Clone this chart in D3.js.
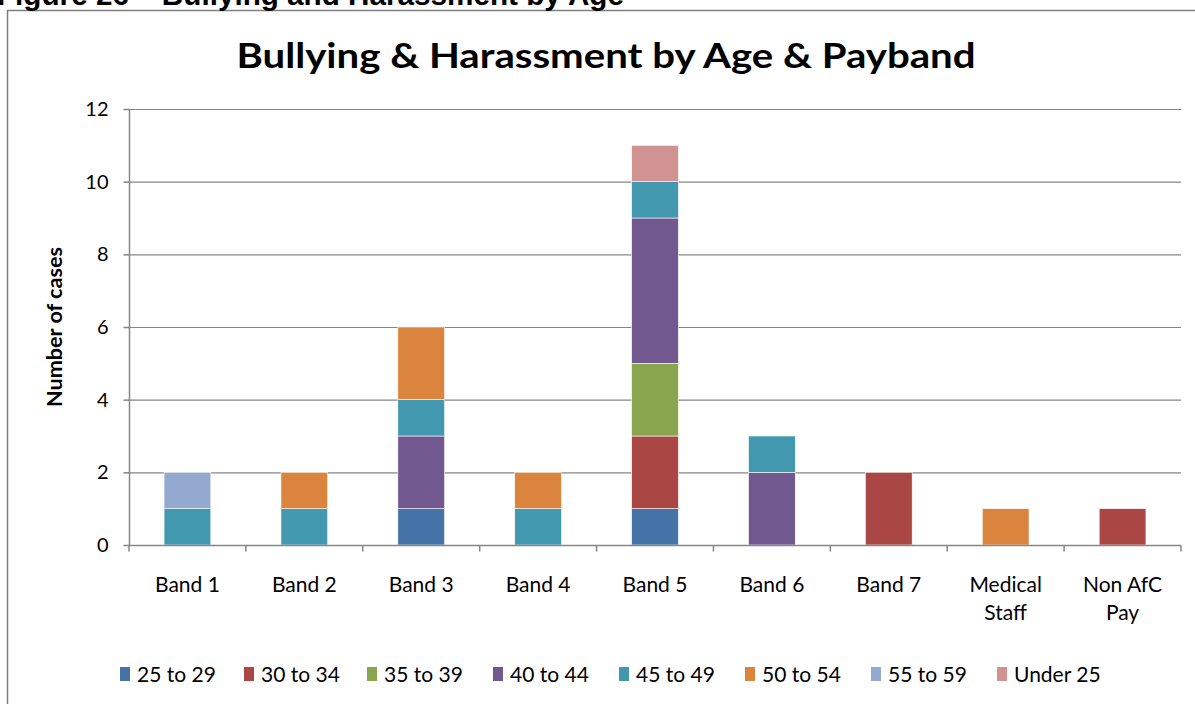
<!DOCTYPE html>
<html>
<head>
<meta charset="utf-8">
<script src="https://cdn.jsdelivr.net/npm/d3@7"></script>
<style>
body{margin:0;background:#fff;}
svg{display:block;}
</style>
</head>
<body>
<svg id="chart" width="1195" height="704"></svg>
<script>
// data
const categories = ["Band 1","Band 2","Band 3","Band 4","Band 5","Band 6","Band 7","Medical Staff","Non AfC Pay"];
const ageGroups = ["25 to 29","30 to 34","35 to 39","40 to 44","45 to 49","50 to 54","55 to 59","Under 25"];
const colours = ["#4572A7","#AA4643","#89A54E","#71588F","#4198AF","#DB843D","#93A9CF","#D19392"];
const age25to29 = [0,0,1,0,1,0,0,0,0];
const age30to34 = [0,0,0,0,2,0,2,0,1];
const age35to39 = [0,0,0,0,2,0,0,0,0];
const age40to44 = [0,0,2,0,4,2,0,0,0];
const age45to49 = [1,1,1,1,1,1,0,0,0];
const age50to54 = [0,1,2,1,0,0,0,1,0];
const age55to59 = [1,0,0,0,0,0,0,0,0];
const under25   = [0,0,0,0,1,0,0,0,0];
const yTicks = [0,2,4,6,8,10,12];

const seriesValues = [age25to29,age30to34,age35to39,age40to44,age45to49,age50to54,age55to59,under25];
let table = categories.map((c,i) => {
  let row = {cat:c};
  ageGroups.forEach((a,j) => row[a] = seriesValues[j][i]);
  return row;
});

let svg = d3.select("#chart");
let pLeft = 129, pRight = 1181, pTop = 109, pBottom = 545;
let font = "Lato, 'Open Sans', sans-serif";

// outer frame and clipped caption
svg.append("path").attr("d","M7.5,704 V10.5 H1200").attr("fill","none").attr("stroke","#7f7f7f").attr("stroke-width",1.5);
svg.append("text").attr("x",-3).attr("y",5).attr("font-family","'Liberation Sans', Arial, sans-serif")
  .attr("font-weight","bold").attr("font-size",29)
  .attr("textLength",627).attr("lengthAdjust","spacingAndGlyphs")
  .text("Figure 26 – Bullying and Harassment by Age");

let x = d3.scaleBand().domain(categories).range([pLeft,pRight]).paddingInner(0.6).paddingOuter(0.3);
let xEdge = d3.scaleLinear().domain([0,categories.length]).range([pLeft,pRight]);
let y = d3.scaleLinear().domain([0,12]).range([pBottom,pTop]);

// gridlines
svg.append("g").selectAll("line").data(yTicks.filter(d=>d>0)).enter().append("line")
  .attr("x1",pLeft).attr("x2",pRight).attr("y1",d=>y(d)+0.5).attr("y2",d=>y(d)+0.5)
  .attr("stroke","#868686").attr("stroke-width",1.2);

// stacked bars
let stack = d3.stack().keys(ageGroups)(table);
svg.append("g").selectAll("g").data(stack).enter().append("g")
  .attr("fill",(d,i)=>colours[i])
  .selectAll("rect").data(d=>d.filter(p=>p[1]>p[0])).enter().append("rect")
  .attr("x",d=>x(d.data.cat)).attr("width",x.bandwidth())
  .attr("y",d=>y(d[1])).attr("height",d=>y(d[0])-y(d[1]))
  .attr("stroke","#fff").attr("stroke-width",0.6);

// y axis
let yAxis = svg.append("g").attr("transform","translate("+(pLeft+0.5)+",0)")
  .call(d3.axisLeft(y).tickValues(yTicks).tickSize(6).tickPadding(15));
yAxis.select(".domain").attr("stroke","#868686").attr("stroke-width",1.5).attr("d","M0,"+pTop+"V"+pBottom);
yAxis.selectAll(".tick line").attr("stroke","#868686").attr("stroke-width",1.5);
yAxis.selectAll(".tick text").attr("font-family",font).attr("font-size",20).attr("fill","#000");

// x axis
let xAxis = svg.append("g").attr("transform","translate(0,"+(pBottom+0.5)+")");
xAxis.append("line").attr("x1",pLeft).attr("x2",pRight).attr("stroke","#868686").attr("stroke-width",1.5);
xAxis.selectAll("line.tk").data(d3.range(categories.length+1)).enter().append("line").attr("class","tk")
  .attr("x1",d=>xEdge(d)).attr("x2",d=>xEdge(d)).attr("y1",0).attr("y2",6)
  .attr("stroke","#868686").attr("stroke-width",1.5);
let labels = xAxis.selectAll("text").data(categories).enter().append("text")
  .attr("x",d=>x(d)+x.bandwidth()/2).attr("y",46).attr("text-anchor","middle")
  .attr("font-family",font).attr("font-size",21).attr("fill","#000");
labels.each(function(d){
  let lines = [d];
  if (d == "Medical Staff") lines = ["Medical","Staff"];
  if (d == "Non AfC Pay") lines = ["Non AfC","Pay"];
  d3.select(this).selectAll("tspan").data(lines).enter().append("tspan")
    .attr("x",x(d)+x.bandwidth()/2).attr("dy",(l,i)=>i?28:0).text(l=>l);
});

// title
svg.append("text").attr("x",606).attr("y",68).attr("text-anchor","middle")
  .attr("font-family",font).attr("font-weight","bold").attr("font-size",35)
  .attr("textLength",739).attr("lengthAdjust","spacingAndGlyphs")
  .text("Bullying & Harassment by Age & Payband");

// y label
svg.append("text").attr("transform","translate(62,327) rotate(-90)").attr("text-anchor","middle")
  .attr("font-family",font).attr("font-weight","bold").attr("font-size",20)
  .attr("textLength",160).attr("lengthAdjust","spacingAndGlyphs").text("Number of cases");

// legend
let legX = [120,244,367,493,619,745,871,997];
let leg = svg.append("g").selectAll("g").data(ageGroups).enter().append("g")
  .attr("transform",(d,i)=>"translate("+legX[i]+",667)");
leg.append("rect").attr("x",0).attr("y",0).attr("width",10).attr("height",14).attr("fill",(d,i)=>colours[i]);
leg.append("text").attr("x",17).attr("y",15).attr("font-family",font).attr("font-size",21).text(d=>d);
</script>
</body>
</html>
